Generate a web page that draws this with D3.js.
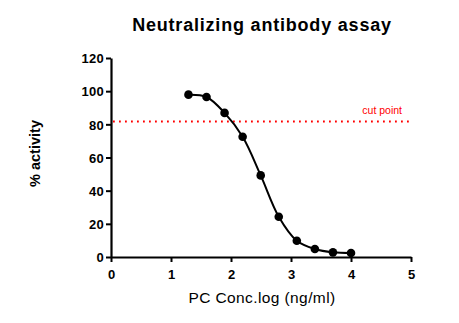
<!DOCTYPE html>
<html>
<head>
<meta charset="utf-8">
<script src="https://cdn.jsdelivr.net/npm/d3@7"></script>
<style>
  html, body { margin: 0; padding: 0; background: #fff; }
  svg { display: block; font-family: "Liberation Sans", Arial, sans-serif; }
</style>
</head>
<body>
<svg id="chart" width="459" height="323"></svg>
<script>
// log10 concentration (ng/ml) and measured % activity
const logConc = [1.291, 1.592, 1.893, 2.194, 2.495, 2.796, 3.097, 3.398, 3.699, 4.0];
const activity = [97.9, 96.5, 86.9, 72.5, 49.2, 24.3, 9.8, 4.8, 2.8, 2.4];
const cutPoint = 81.7;
const xTicks = [0, 1, 2, 3, 4, 5];
const yTicks = [0, 20, 40, 60, 80, 100, 120];

const svg = d3.select("#chart");
const margin = { left: 111, right: 48, top: 58, bottom: 66 };
const W = 459, H = 323;

const x = d3.scaleLinear().domain([0, 5]).range([margin.left, W - margin.right]);
const y = d3.scaleLinear().domain([0, 120]).range([H - margin.bottom, margin.top]);

// title
svg.append("text")
  .attr("x", (x(0) + x(5)) / 2 + 1).attr("y", 31)
  .attr("text-anchor", "middle")
  .attr("font-size", 18).attr("font-weight", "bold")
  .attr("letter-spacing", 0.8)
  .text("Neutralizing antibody assay");

// cut point reference line
svg.append("line")
  .attr("x1", x(0) + 2).attr("x2", x(5))
  .attr("y1", y(cutPoint)).attr("y2", y(cutPoint))
  .attr("stroke", "#ff0000").attr("stroke-width", 1.8)
  .attr("stroke-dasharray", "1.8,4.2");
svg.append("text")
  .attr("x", x(5) - 9).attr("y", y(cutPoint) - 7.5)
  .attr("text-anchor", "end")
  .attr("font-size", 10.5).attr("fill", "#ff0000")
  .text("cut point");

// fitted curve through the points
const pts = logConc.map((d, i) => [d, activity[i]]);
svg.append("path")
  .datum(pts)
  .attr("fill", "none").attr("stroke", "#000").attr("stroke-width", 2)
  .attr("d", d3.line().x(d => x(d[0])).y(d => y(d[1])).curve(d3.curveCatmullRom.alpha(0.5)));

// data points
svg.append("g").selectAll("circle").data(pts).join("circle")
  .attr("cx", d => x(d[0])).attr("cy", d => y(d[1]))
  .attr("r", 4.3).attr("fill", "#000");

// axes
const xAxis = svg.append("g")
  .attr("transform", `translate(0,${y(0)})`)
  .call(d3.axisBottom(x).tickValues(xTicks).tickFormat(d3.format("d")).tickSize(5).tickSizeOuter(0));
const yAxis = svg.append("g")
  .attr("transform", `translate(${x(0)},0)`)
  .call(d3.axisLeft(y).tickValues(yTicks).tickFormat(d3.format("d")).tickSize(5).tickSizeOuter(0));

[xAxis, yAxis].forEach(g => {
  g.select(".domain").attr("stroke", "#000").attr("stroke-width", 2.2);
  g.selectAll(".tick line").attr("stroke", "#000").attr("stroke-width", 2);
  g.selectAll(".tick text")
    .attr("fill", "#000")
    .attr("font-family", "Liberation Sans, Arial, sans-serif")
    .attr("font-size", 13).attr("font-weight", "bold");
});
xAxis.selectAll(".tick text").attr("dy", null).attr("y", 22);
yAxis.selectAll(".tick text").attr("x", -7).attr("dy", "0.36em").attr("letter-spacing", 0.3);

// axis titles
svg.append("text")
  .attr("x", (x(0) + x(5)) / 2 + 1).attr("y", 303)
  .attr("text-anchor", "middle")
  .attr("font-size", 15.5).attr("letter-spacing", 0.4)
  .text("PC Conc.log (ng/ml)");
svg.append("text")
  .attr("transform", `translate(40,${(y(0) + y(120)) / 2 - 4}) rotate(-90)`)
  .attr("text-anchor", "middle")
  .attr("font-size", 14.5).attr("font-weight", "bold")
  .text("% activity");
</script>
</body>
</html>
